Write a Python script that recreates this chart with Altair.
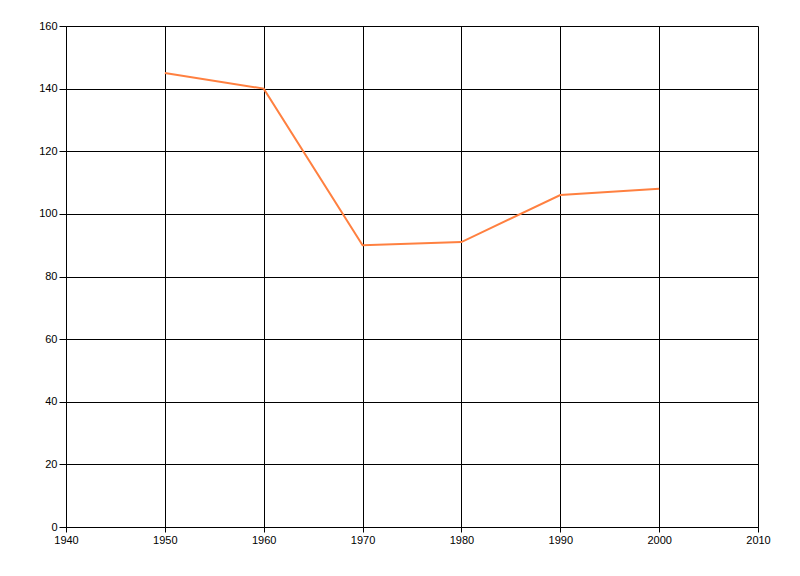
import altair as alt
import pandas as pd

years = [1950, 1960, 1970, 1980, 1990, 2000]
values = [145, 140, 90, 91, 106, 108]
x_ticks = [1940, 1950, 1960, 1970, 1980, 1990, 2000, 2010]
y_ticks = [0, 20, 40, 60, 80, 100, 120, 140, 160]

df = pd.DataFrame({"year": years, "value": values})

chart = (
    alt.Chart(df)
    .mark_line(color="#FF8040", strokeWidth=2)
    .encode(
        x=alt.X(
            "year:Q",
            scale=alt.Scale(domain=[1940, 2010], nice=False, zero=False),
            axis=alt.Axis(
                values=x_ticks, format="d", title=None,
                labelFlush=False, tickSize=5, labelPadding=2,
            ),
        ),
        y=alt.Y(
            "value:Q",
            scale=alt.Scale(domain=[0, 160], nice=False),
            axis=alt.Axis(values=y_ticks, title=None, tickSize=7, labelPadding=2),
        ),
    )
    .properties(
        width=692,
        height=501,
        autosize=alt.AutoSizeParams(type="none"),
        padding={"left": 58, "top": 18, "right": 30, "bottom": 40},
    )
    .configure_axis(
        grid=True,
        gridColor="#000000",
        gridOpacity=1,
        gridWidth=1,
        domainColor="#000000",
        domainWidth=1,
        tickColor="#000000",
        labelFont="Liberation Sans",
        labelFontSize=11,
        labelColor="#000000",
    )
    .configure_view(stroke=None)
)

chart.save("out.html", embed_options={"renderer": "svg", "actions": False})
